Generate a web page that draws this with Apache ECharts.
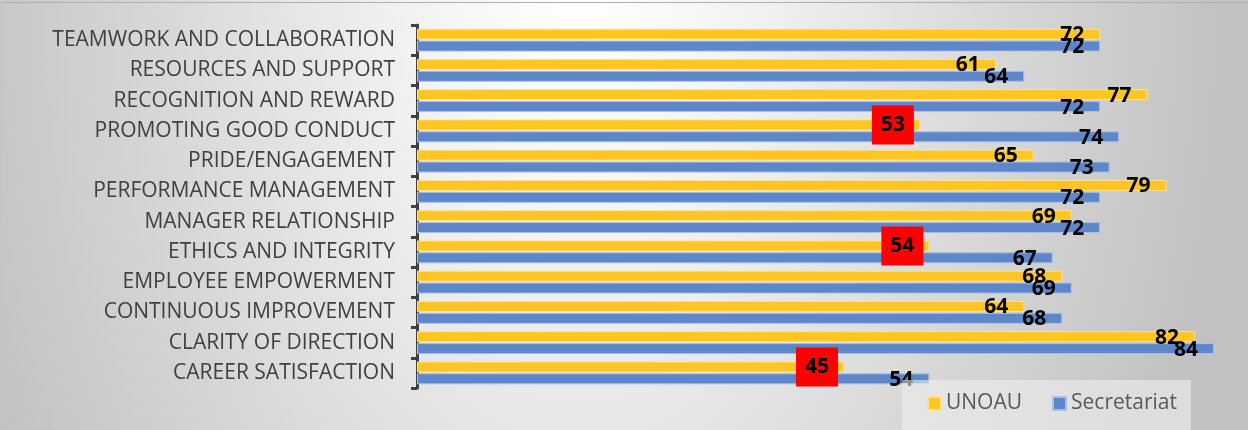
<!DOCTYPE html>
<html>
<head>
<meta charset="utf-8">
<script src="https://cdn.jsdelivr.net/npm/echarts@6/dist/echarts.min.js"></script>
<style>
  html, body { margin: 0; padding: 0; background: #ffffff; }
  #chart {
    position: absolute;
    left: 0; top: 0;
    width: 1248px; height: 430px;
    background: radial-gradient(ellipse 640px 1000px at 580px 0px, #ffffff 0%, #f3f3f3 25%, #d8d8d8 65%, #c2c2c2 100%);
  }
  #frame {
    position: absolute;
    left: 1px; top: 2px; right: 0; bottom: 0;
    border-top: 1px solid #b0b0b0;
    border-left: 1px solid #c4c4c4;
    pointer-events: none;
  }
</style>
</head>
<body>
<div id="chart"></div>
<div id="frame"></div>
<script>
// categories, top to bottom
const categories = [
  'TEAMWORK AND COLLABORATION',
  'RESOURCES AND SUPPORT',
  'RECOGNITION AND REWARD',
  'PROMOTING GOOD CONDUCT',
  'PRIDE/ENGAGEMENT',
  'PERFORMANCE MANAGEMENT',
  'MANAGER RELATIONSHIP',
  'ETHICS AND INTEGRITY',
  'EMPLOYEE EMPOWERMENT',
  'CONTINUOUS IMPROVEMENT',
  'CLARITY OF DIRECTION',
  'CAREER SATISFACTION'
]
const unoau = [72, 61, 77, 53, 65, 79, 69, 54, 68, 64, 82, 45]
const secretariat = [72, 64, 72, 74, 73, 72, 72, 67, 69, 68, 84, 54]
const seriesNames = ['UNOAU', 'Secretariat']
// UNOAU scores under this get the red flag box
const flagBelow = 60

const font = '"Open Sans", "Noto Sans", sans-serif'

const chart = echarts.init(document.getElementById('chart'), null, { renderer: 'canvas' })

const baseLabel = {
  show: true,
  position: 'insideRight',
  distance: 16,
  offset: [0, 1],
  color: '#000000',
  fontFamily: font,
  fontWeight: 'bold',
  fontSize: 21
}

const unoauData = unoau.map(v => {
  if (v >= flagBelow) return v
  return {
    value: v,
    label: {
      distance: 6,
      offset: [0, 0],
      backgroundColor: '#ff0000',
      padding: [10, 9, 9, 9],
      lineHeight: 20
    }
  }
})

const option = {
  backgroundColor: 'transparent',
  animation: false,
  grid: {
    left: 417,
    right: 15,
    top: 25,
    bottom: 42
  },
  legend: {
    data: seriesNames,
    left: 902,
    top: 380,
    padding: [13, 14, 20, 25],
    itemGap: 30,
    itemWidth: 13,
    itemHeight: 13,
    icon: 'rect',
    backgroundColor: 'rgba(238,238,238,0.6)',
    textStyle: {
      fontFamily: font,
      fontSize: 21,
      color: '#595959'
    }
  },
  xAxis: {
    type: 'value',
    min: 0,
    max: 86,
    show: false
  },
  yAxis: {
    type: 'category',
    inverse: true,
    data: categories,
    offset: 3,
    axisLine: {
      show: true,
      lineStyle: { color: '#404040', width: 3 }
    },
    axisTick: {
      show: true,
      length: 6,
      lineStyle: { color: '#404040', width: 3 }
    },
    axisLabel: {
      margin: 19,
      color: '#404040',
      fontFamily: font,
      fontSize: 21
    },
    splitLine: { show: false }
  },
  series: [
    {
      name: seriesNames[0],
      type: 'bar',
      data: unoauData,
      barWidth: 11,
      barGap: '8%',
      itemStyle: {
        color: '#FFC522',
        borderColor: '#FFE38A',
        borderWidth: 1
      },
      label: baseLabel
    },
    {
      name: seriesNames[1],
      type: 'bar',
      data: secretariat,
      barWidth: 11,
      barGap: '8%',
      itemStyle: {
        color: '#5E87CA',
        borderColor: '#A9BFE4',
        borderWidth: 1
      },
      label: baseLabel
    }
  ]
}

chart.setOption(option)
</script>
</body>
</html>
